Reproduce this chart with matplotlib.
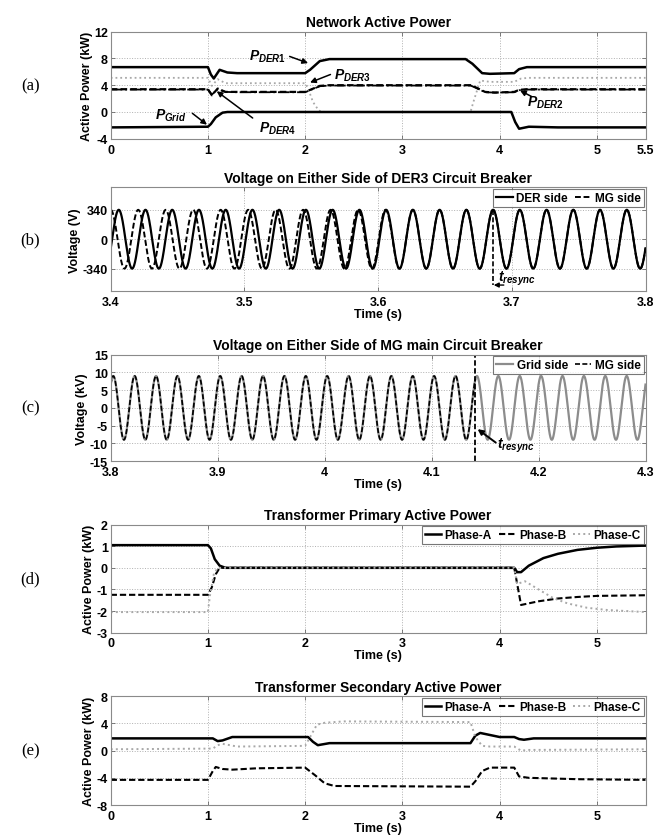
import numpy as np
import matplotlib
matplotlib.use("Agg")
import matplotlib.pyplot as plt

plt.rcParams['font.family'] = ['Liberation Sans', 'DejaVu Sans']
plt.rcParams['font.weight'] = 'bold'
plt.rcParams['mathtext.fontset'] = 'custom'
plt.rcParams['mathtext.it'] = 'Liberation Sans:bold:italic'
plt.rcParams['mathtext.rm'] = 'Liberation Sans:bold'

# ---------------- (a) network active power, knots
t_der1 = [0, 1.0, 1.03, 1.06, 1.12, 1.2, 1.3, 2.0, 2.05, 2.15, 2.25, 3.65, 3.72, 3.82, 3.9, 4.15, 4.2, 4.28, 5.5]
p_der1 = [6.7, 6.7, 5.6, 5.0, 6.3, 5.9, 5.8, 5.8, 6.3, 7.6, 7.9, 7.9, 7.2, 5.8, 5.7, 5.8, 6.4, 6.7, 6.7]
t_der3 = [0, 1.0, 1.04, 1.1, 1.18, 1.3, 2.0, 2.03, 2.08, 2.14, 2.2, 3.7, 3.73, 3.8, 3.9, 4.15, 4.22, 4.3, 5.5]
p_der3 = [5.1, 5.1, 3.9, 4.9, 4.3, 4.3, 4.3, 3.5, 1.5, 0.2, 0.0, 0.0, 1.5, 4.7, 4.5, 4.5, 5.0, 5.1, 5.1]
t_der2 = [0, 1.0, 1.04, 1.1, 1.18, 1.3, 2.0, 2.05, 2.15, 2.25, 3.7, 3.75, 3.85, 3.95, 4.15, 4.2, 4.28, 5.5]
p_der2 = [3.4, 3.4, 2.5, 3.5, 3.0, 3.0, 3.0, 3.3, 3.9, 4.0, 4.0, 3.7, 3.0, 2.9, 3.0, 3.3, 3.4, 3.4]
p_der4 = [3.35, 3.35, 2.6, 3.4, 3.0, 2.95, 2.95, 3.25, 3.85, 3.95, 3.95, 3.65, 2.95, 2.9, 2.95, 3.25, 3.35, 3.35]
t_grid = [0, 1.0, 1.03, 1.08, 1.15, 1.2, 4.12, 4.16, 4.2, 4.3, 4.6, 5.5]
p_grid = [-2.3, -2.2, -1.8, -0.8, -0.1, 0.0, 0.0, -1.5, -2.5, -2.2, -2.3, -2.3]

# ---------------- (b) DER3 breaker voltages (sinusoid parameters)
vb_amp = 340
f_nom = 50.0
der_phase = -0.314          # rad, at t = 3.4
mg_lead0 = 0.3              # cycles of lead at t = 3.4
t_phase_match = 3.62
t_resync_b = 3.686

# ---------------- (c) MG main breaker voltages
vc_amp = 9.0
grid_phase = 0.82           # rad, at t = 3.8
t_resync_c = 4.141

# ---------------- (d) transformer primary
td_a = [0, 1.0, 1.03, 1.07, 1.12, 1.18, 4.15, 4.18, 4.22, 4.3, 4.45, 4.6, 4.8, 5.0, 5.2, 5.5]
pd_a = [1.05, 1.05, 0.9, 0.4, 0.1, 0.0, 0.0, -0.2, -0.2, 0.1, 0.45, 0.65, 0.83, 0.93, 0.99, 1.03]
td_b = [0, 1.0, 1.04, 1.08, 1.12, 4.15, 4.22, 4.4, 4.6, 4.8, 5.0, 5.5]
pd_b = [-1.25, -1.25, -0.9, -0.3, 0.0, 0.0, -1.72, -1.55, -1.42, -1.35, -1.3, -1.27]
td_c = [0, 1.0, 1.02, 1.06, 1.1, 4.15, 4.18, 4.26, 4.4, 4.55, 4.7, 4.9, 5.1, 5.3, 5.5]
pd_c = [-2.05, -2.05, -1.3, -0.3, 0.0, 0.0, -0.75, -0.62, -1.0, -1.4, -1.65, -1.85, -1.95, -2.0, -2.05]

# ---------------- (e) transformer secondary
te_a = [0, 1.05, 1.1, 1.15, 1.25, 2.03, 2.08, 2.13, 2.25, 3.7, 3.75, 3.8, 3.9, 4.0, 4.15, 4.2, 4.25, 4.35, 5.5]
pe_a = [1.8, 1.8, 1.4, 1.5, 2.0, 2.0, 1.3, 0.8, 1.1, 1.1, 2.2, 2.6, 2.3, 2.0, 2.0, 1.7, 1.6, 1.8, 1.8]
te_b = [0, 1.0, 1.05, 1.08, 1.15, 1.25, 1.5, 2.0, 2.1, 2.2, 2.3, 3.7, 3.75, 3.82, 3.9, 4.15, 4.2, 4.3, 4.8, 5.5]
pe_b = [-4.3, -4.3, -3.0, -2.4, -2.7, -2.8, -2.6, -2.5, -3.6, -4.8, -5.2, -5.3, -4.5, -3.0, -2.5, -2.5, -3.8, -4.0, -4.2, -4.3]
te_c = [0, 1.05, 1.1, 1.15, 1.3, 2.0, 2.05, 2.12, 2.2, 2.4, 3.7, 3.75, 3.82, 3.9, 4.15, 4.22, 4.3, 5.5]
pe_c = [0.2, 0.3, 0.8, 1.0, 0.6, 0.7, 2.0, 3.8, 4.1, 4.3, 4.2, 2.0, 0.7, 0.6, 0.6, 0.0, 0.1, 0.2]

GRAY = '#8c8c8c'
LGRAY = '#a8a8a8'
DASH = (3, 1.4)


def style(ax, xlim, xticks, xlabels, ylim, yticks, ylabels, title, ylabel, xlabel=True):
    ax.set_xlim(*xlim)
    ax.set_ylim(*ylim)
    ax.set_xticks(xticks)
    ax.set_xticklabels(xlabels, fontsize=9, fontweight='bold')
    ax.set_yticks(yticks)
    ax.set_yticklabels(ylabels, fontsize=9, fontweight='bold')
    ax.tick_params(direction='in', length=3, width=0.6, color='#666666', pad=2,
                   top=True, right=True)
    ax.tick_params(axis='x', pad=3.5)
    ax.grid(True, linestyle=':', color='#b0b0b0', linewidth=0.7)
    for s in ax.spines.values():
        s.set_color('#8a8a8a')
        s.set_linewidth(0.8)
    ax.set_title(title, fontsize=10, fontweight='bold', pad=4)
    ax.set_ylabel(ylabel, fontsize=9, fontweight='bold', labelpad=1)
    if xlabel:
        ax.set_xlabel('Time (s)', fontsize=9, fontweight='bold', labelpad=0)


def legend(ax, **kw):
    lg = ax.legend(loc='upper right', ncol=3, fontsize=8.5, frameon=True, fancybox=False,
                   borderaxespad=0.15, handlelength=1.4, handletextpad=0.3,
                   columnspacing=0.6, borderpad=0.25, **kw)
    lg.get_frame().set_edgecolor('#555555')
    lg.get_frame().set_linewidth(0.8)
    for t in lg.get_texts():
        t.set_fontweight('bold')
    return lg


fig = plt.figure(figsize=(6.71, 8.37), dpi=100)
L, W = 0.165, 0.797
ax_a = fig.add_axes([L, 0.833, W, 0.128])
ax_b = fig.add_axes([L, 0.651, W, 0.124])
ax_c = fig.add_axes([L, 0.448, W, 0.127])
ax_d = fig.add_axes([L, 0.243, W, 0.129])
ax_e = fig.add_axes([L, 0.037, W, 0.130])

# ---- (a)
ax_a.plot(t_der3, p_der3, ':', color=LGRAY, lw=1.3)
ax_a.plot(t_der2, p_der2, color='k', lw=1.6, dashes=DASH)
ax_a.plot(t_der2, p_der4, '-.', color='k', lw=1.3)
ax_a.plot(t_der1, p_der1, '-', color='k', lw=1.8)
ax_a.plot(t_grid, p_grid, '-', color='k', lw=1.8)
style(ax_a, (0, 5.5), [0, 1, 2, 3, 4, 5, 5.5], ['0', '1', '2', '3', '4', '5', '5.5'],
      (-4, 12), [-4, 0, 4, 8, 12], ['-4', '0', '4', '8', '12'],
      'Network Active Power', 'Active Power (kW)', xlabel=False)
arrow = dict(arrowstyle='-|>', color='k', lw=1.1, mutation_scale=8, shrinkA=0, shrinkB=0)
notes_a = [(r'$P_{DER1}$', (1.42, 8.4), (1.84, 8.3), (2.03, 7.3)),
           (r'$P_{DER3}$', (2.3, 5.5), (2.26, 5.6), (2.05, 4.4)),
           (r'$P_{Grid}$', (0.46, -0.4), (0.84, -0.2), (0.99, -1.9)),
           (r'$P_{DER4}$', (1.53, -2.3), (1.46, -0.9), (1.09, 3.1)),
           (r'$P_{DER2}$', (4.28, 1.5), (4.33, 2.3), (4.21, 3.2))]
for txt, tpos, tail, tip in notes_a:
    ax_a.text(tpos[0], tpos[1], txt, fontsize=10, ha='left', va='center')
    ax_a.annotate('', xy=tip, xytext=tail, arrowprops=arrow)

# ---- (b)
tb = np.linspace(3.4, 3.8, 4000)
der_b = vb_amp * np.sin(2 * np.pi * f_nom * (tb - 3.4) + der_phase)
lead = np.clip((t_phase_match - tb) / (t_phase_match - 3.4), 0, 1) * mg_lead0
mg_b = vb_amp * np.sin(2 * np.pi * f_nom * (tb - 3.4) + der_phase + 2 * np.pi * lead)
ax_b.plot(tb, der_b, '-', color='k', lw=1.6, label='DER side')
ax_b.plot(tb, mg_b, color='k', lw=1.4, dashes=DASH, label='MG side')
ax_b.plot([t_resync_b, t_resync_b], [vb_amp, -530], color='k', lw=1.2, dashes=DASH)
ax_b.annotate('', xy=(t_resync_b + 0.0005, -530), xytext=(3.694, -530),
              arrowprops=dict(arrowstyle='-|>', color='k', lw=1.0, mutation_scale=7,
                              shrinkA=0, shrinkB=0))
ax_b.text(3.690, -450, r'$t_{resync}$', fontsize=10, ha='left', va='center')
style(ax_b, (3.4, 3.8), [3.4, 3.5, 3.6, 3.7, 3.8], ['3.4', '3.5', '3.6', '3.7', '3.8'],
      (-600, 600), [-340, 0, 340], ['-340', '0', '340'],
      'Voltage on Either Side of DER3 Circuit Breaker', 'Voltage (V)')
legend(ax_b)

# ---- (c)
tc = np.linspace(3.8, 4.3, 5000)
grid_c = vc_amp * np.sin(2 * np.pi * f_nom * (tc - 3.8) + grid_phase)
m = tc <= t_resync_c
ax_c.plot(tc, grid_c, '-', color=GRAY, lw=1.6, label='Grid side')
ax_c.plot(tc[m], grid_c[m], color='k', lw=1.2, dashes=DASH, label='MG side')
ax_c.axvline(t_resync_c, color='k', lw=1.3, dashes=DASH)
ax_c.annotate('', xy=(4.143, -6.0), xytext=(4.160, -9.8),
              arrowprops=dict(arrowstyle='-|>', color='k', lw=1.4, mutation_scale=8,
                              shrinkA=0, shrinkB=0))
ax_c.text(4.161, -10.3, r'$t_{resync}$', fontsize=10, ha='left', va='center')
style(ax_c, (3.8, 4.3), [3.8, 3.9, 4.0, 4.1, 4.2, 4.3], ['3.8', '3.9', '4', '4.1', '4.2', '4.3'],
      (-15, 15), [-15, -10, -5, 0, 5, 10, 15], ['-15', '-10', '-5', '0', '5', '10', '15'],
      'Voltage on Either Side of MG main Circuit Breaker', 'Voltage (kV)')
legend(ax_c)

# ---- (d)
ax_d.plot(td_a, pd_a, '-', color='k', lw=1.8, label='Phase-A')
ax_d.plot(td_b, pd_b, color='k', lw=1.5, dashes=DASH, label='Phase-B')
ax_d.plot(td_c, pd_c, ':', color=LGRAY, lw=1.4, label='Phase-C')
style(ax_d, (0, 5.5), [0, 1, 2, 3, 4, 5], ['0', '1', '2', '3', '4', '5'],
      (-3, 2), [-3, -2, -1, 0, 1, 2], ['-3', '-2', '-1', '0', '1', '2'],
      'Transformer Primary Active Power', 'Active Power (kW)')
legend(ax_d)

# ---- (e)
ax_e.plot(te_a, pe_a, '-', color='k', lw=1.8, label='Phase-A')
ax_e.plot(te_b, pe_b, color='k', lw=1.5, dashes=DASH, label='Phase-B')
ax_e.plot(te_c, pe_c, ':', color=LGRAY, lw=1.4, label='Phase-C')
style(ax_e, (0, 5.5), [0, 1, 2, 3, 4, 5], ['0', '1', '2', '3', '4', '5'],
      (-8, 8), [-8, -4, 0, 4, 8], ['-8', '-4', '0', '4', '8'],
      'Transformer Secondary Active Power', 'Active Power (kW)')
legend(ax_e)

# panel letters
for ax, lab in zip([ax_a, ax_b, ax_c, ax_d, ax_e], ['(a)', '(b)', '(c)', '(d)', '(e)']):
    pos = ax.get_position()
    fig.text(0.045, pos.y0 + pos.height * 0.5, lab, fontsize=12, fontweight='normal',
             family='Liberation Serif', ha='center', va='center')

fig.savefig('out.png', dpi=100)
